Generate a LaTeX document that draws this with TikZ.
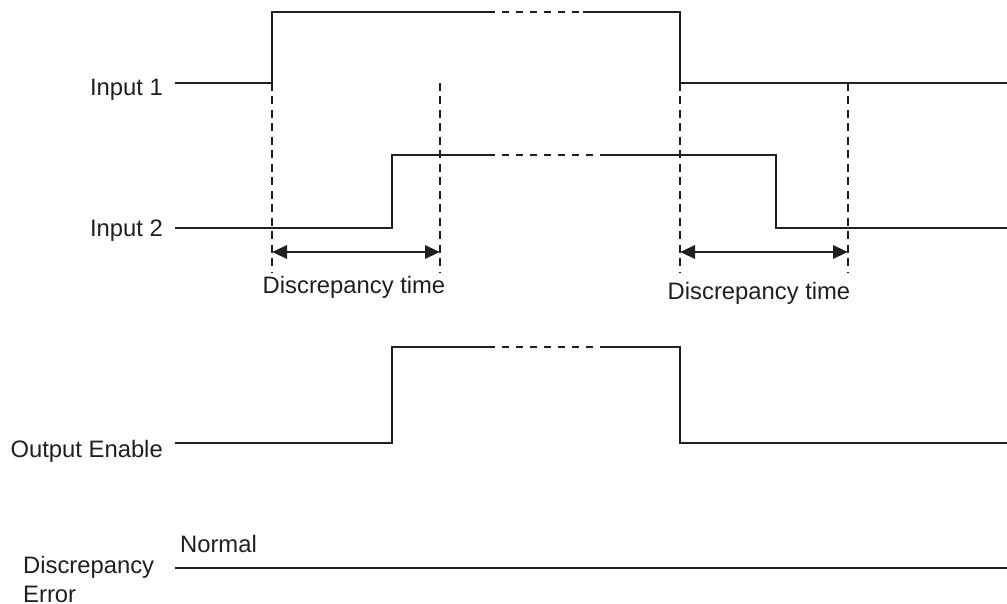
\documentclass[tikz,border=0pt]{standalone}
\usepackage{fontspec}
\setmainfont{Liberation Sans}
\usetikzlibrary{arrows.meta}

\begin{document}
\begin{tikzpicture}[x=1pt,y=-1pt,
	sig/.style={draw=ink,line width=1.8pt},
	sigdash/.style={draw=ink,line width=1.8pt,dash pattern=on 7pt off 7pt},
	guide/.style={draw=ink,line width=1.4pt,dash pattern=on 8pt off 5.5pt},
	span/.style={draw=ink,line width=2.8pt,{Triangle[length=15pt,width=13pt]}-{Triangle[length=15pt,width=13pt]}},
	lbl/.style={text=ink,inner sep=0pt,font=\fontsize{23.8}{29}\selectfont}]
	\definecolor{ink}{gray}{0.12}
	\useasboundingbox (0,0) rectangle (1007,604);
	%% Labels ------
	\node[lbl, anchor=base east] (in1) at (163,96) {Input 1};
	\node[lbl, anchor=base east] (in2) at (163,237) {Input 2};
	\node[lbl, anchor=base east] (oe) at (163,457) {Output Enable};
	\node[lbl, anchor=north west, align=left] (err) at (23,556) {Discrepancy\\Error};
	\node[lbl, anchor=base] (normal) at (218.5,552) {Normal};
	\node[lbl, anchor=base] (dt1) at (354,293) {Discrepancy time};
	\node[lbl, anchor=base] (dt2) at (759,299) {Discrepancy time};
	%% Points ------
	\coordinate (i1a) at (175,83);  \coordinate (i1b) at (272,12);
	\coordinate (i1c) at (488,12);  \coordinate (i1d) at (583,12);
	\coordinate (i1e) at (680,83);  \coordinate (i1f) at (1007,83);
	\coordinate (i2a) at (175,228); \coordinate (i2b) at (392,155);
	\coordinate (i2c) at (488,155); \coordinate (i2d) at (607,155);
	\coordinate (i2e) at (776,228); \coordinate (i2f) at (1007,228);
	\coordinate (oea) at (175,443); \coordinate (oeb) at (392,347);
	\coordinate (oec) at (488,347); \coordinate (oed) at (607,347);
	\coordinate (oee) at (680,443); \coordinate (oef) at (1007,443);
	\coordinate (era) at (175,568); \coordinate (erf) at (1007,568);
	\coordinate (g1t) at (272,83);  \coordinate (g1b) at (272,273);
	\coordinate (g2t) at (440,83);  \coordinate (g2b) at (440,273);
	\coordinate (g3t) at (680,83);  \coordinate (g3b) at (680,273);
	\coordinate (g4t) at (848,83);  \coordinate (g4b) at (848,273);
	\coordinate (a1l) at (272,252); \coordinate (a1r) at (440,252);
	\coordinate (a2l) at (680,252); \coordinate (a2r) at (848,252);
	%% Guides ---------
	\draw[guide] (g1t) -- (g1b);
	\draw[guide] (g2t) -- (g2b);
	\draw[guide] (g3t) -- (g3b);
	\draw[guide] (g4t) -- (g4b);
	\draw[span] (a1l) -- (a1r);
	\draw[span] (a2l) -- (a2r);
	%% Waveforms ---------
	\draw[sig] (i1a) -| (i1b) -- (i1c);
	\draw[sigdash] (i1c) -- (i1d);
	\draw[sig] (i1d) -| (i1e) -- (i1f);
	\draw[sig] (i2a) -| (i2b) -- (i2c);
	\draw[sigdash] (i2c) -- (i2d);
	\draw[sig] (i2d) -| (i2e) -- (i2f);
	\draw[sig] (oea) -| (oeb) -- (oec);
	\draw[sigdash] (oec) -- (oed);
	\draw[sig] (oed) -| (oee) -- (oef);
	\draw[sig] (era) -- (erf);
\end{tikzpicture}
\end{document}
